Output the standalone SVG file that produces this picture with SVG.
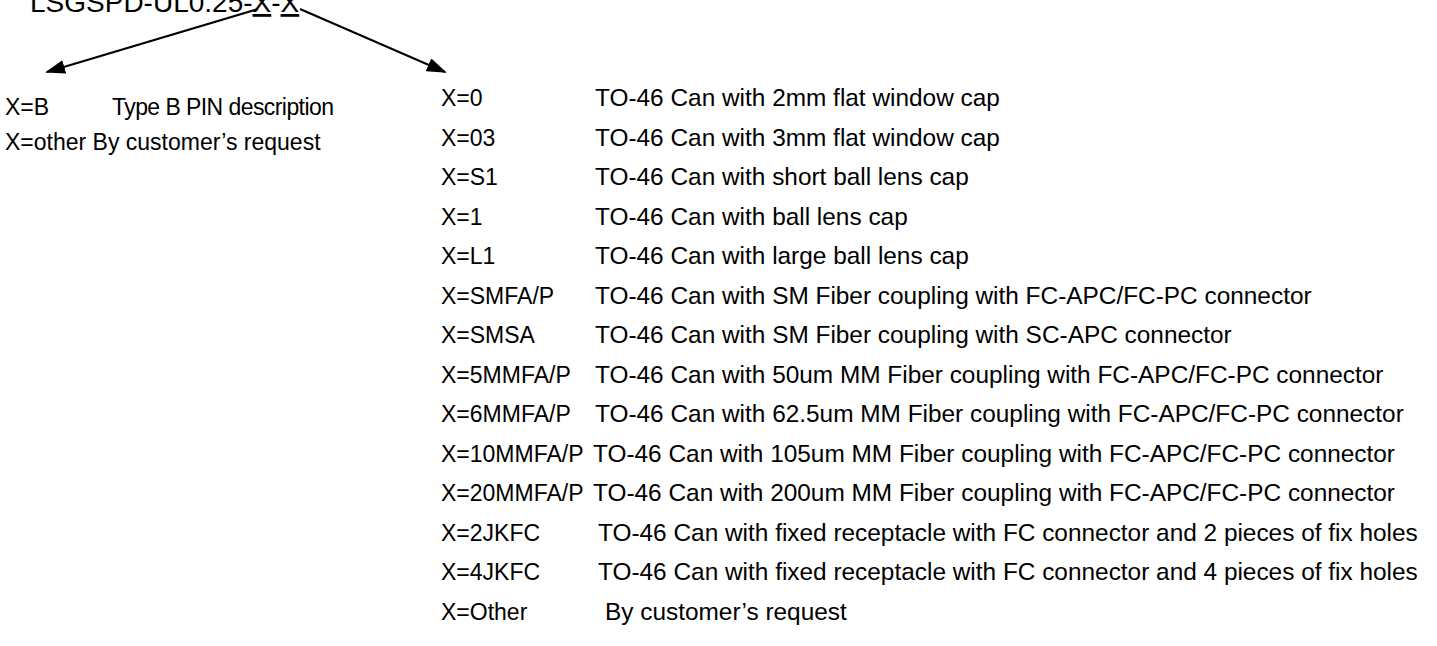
<svg xmlns="http://www.w3.org/2000/svg" width="1437" height="646" viewBox="0 0 1437 646">
<style>
text{font-family:"Liberation Sans",Arial,sans-serif;font-size:24.4px;fill:#000}
.t{font-size:28px}
.l{font-size:23px}
.u{text-decoration:underline}
.c{stroke:#000;stroke-width:2;fill:none}
</style>
<defs>
<marker id="ah" markerWidth="10" markerHeight="7" refX="9" refY="3.5" orient="auto" markerUnits="strokeWidth">
<path d="M0,0 L10,3.5 L0,7 Z" fill="#000"/>
</marker>
</defs>
<rect width="1437" height="646" fill="#fff"/>
<g id="title"><text class="t" x="30" y="12">LSGSPD-UL0.25-<tspan class="u">X</tspan>-<tspan class="u">X</tspan></text></g>
<g id="connectors">
<line class="c" x1="258" y1="9" x2="47" y2="72" marker-end="url(#ah)"/>
<line class="c" x1="300" y1="9" x2="445" y2="72" marker-end="url(#ah)"/>
</g>
<g id="left">
<text class="l" x="5" y="115">X=B</text><text class="l" x="112" y="115" textLength="222">Type B PIN description</text>
<text class="l" x="5" y="150">X=other By customer’s request</text>
</g>
<g id="right">
<text class="l" x="441" y="106">X=0</text><text x="595" y="106">TO-46 Can with 2mm flat window cap</text>
<text class="l" x="441" y="145.5">X=03</text><text x="595" y="145.5">TO-46 Can with 3mm flat window cap</text>
<text class="l" x="441" y="185">X=S1</text><text x="595" y="185">TO-46 Can with short ball lens cap</text>
<text class="l" x="441" y="224.5">X=1</text><text x="595" y="224.5">TO-46 Can with ball lens cap</text>
<text class="l" x="441" y="264">X=L1</text><text x="595" y="264">TO-46 Can with large ball lens cap</text>
<text class="l" x="441" y="303.5">X=SMFA/P</text><text x="595" y="303.5">TO-46 Can with SM Fiber coupling with FC-APC/FC-PC connector</text>
<text class="l" x="441" y="343">X=SMSA</text><text x="595" y="343">TO-46 Can with SM Fiber coupling with SC-APC connector</text>
<text class="l" x="441" y="382.5">X=5MMFA/P</text><text x="595" y="382.5">TO-46 Can with 50um MM Fiber coupling with FC-APC/FC-PC connector</text>
<text class="l" x="441" y="422">X=6MMFA/P</text><text x="595" y="422">TO-46 Can with 62.5um MM Fiber coupling with FC-APC/FC-PC connector</text>
<text class="l" x="441" y="461.5">X=10MMFA/P</text><text x="593" y="461.5">TO-46 Can with 105um MM Fiber coupling with FC-APC/FC-PC connector</text>
<text class="l" x="441" y="501">X=20MMFA/P</text><text x="593" y="501">TO-46 Can with 200um MM Fiber coupling with FC-APC/FC-PC connector</text>
<text class="l" x="441" y="540.5">X=2JKFC</text><text x="598" y="540.5">TO-46 Can with fixed receptacle with FC connector and 2 pieces of fix holes</text>
<text class="l" x="441" y="580">X=4JKFC</text><text x="598" y="580">TO-46 Can with fixed receptacle with FC connector and 4 pieces of fix holes</text>
<text class="l" x="441" y="619.5">X=Other</text><text x="605" y="619.5">By customer’s request</text>
</g>
</svg>
